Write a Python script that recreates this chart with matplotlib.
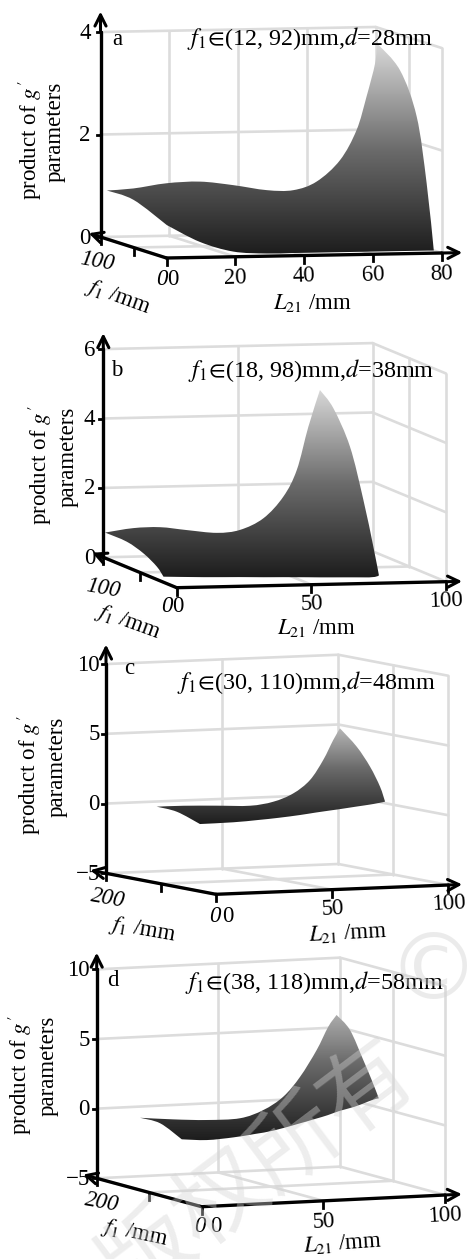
import numpy as np
import matplotlib
matplotlib.use('Agg')
import matplotlib.pyplot as plt
from matplotlib.colors import LinearSegmentedColormap
from matplotlib.patches import PathPatch
from matplotlib.path import Path

plt.rcParams['font.family'] = ['Liberation Serif', 'DejaVu Sans']
plt.rcParams['mathtext.fontset'] = 'stix'

# surface outlines: L21 (mm), f1 (mm), product of g parameters
a_top_L = [0.3, 8, 17.7, 27.4, 37, 46.8, 54.5, 61.3, 68.1, 72.9, 75.8, 78.3, 78.8, 79, 79, 79, 80]
a_top_f = [92, 92, 92, 92, 92, 92, 92, 92, 92, 92, 92, 92, 92, 58, 32.7, 17.6, 12]
a_top_z = [0.94, 0.97, 1.06, 1.08, 1.0, 0.89, 0.88, 1.04, 1.45, 2.03, 2.68, 3.33, 3.72, 3.33, 2.53, 1.29, 0]
a_bot_L = [0.3, 0, 2.4, 12, 21.7, 31.4, 39, 46, 53, 58, 61, 63, 64, 70, 74, 77, 80]
a_bot_f = [92, 50, 12, 12, 12, 12, 12, 12, 12, 12, 12, 12, 12, 12, 12, 12, 12]
a_bot_z = [0.94, 0.93, 0.59, 0.25, 0.05, 0, 0, 0, 0, 0, 0, 0, 0, 0, 0, 0, 0]

b_top_L = [0.1, 10.6, 20.5, 30.4, 41.6, 50.2, 58.9, 66.3, 71.3, 75.6, 79.9, 80, 80, 80, 80, 80]
b_top_f = [98, 98, 98, 98, 98, 98, 98, 98, 98, 98, 98, 80, 57.4, 39.2, 25.6, 18]
b_top_z = [0.73, 0.84, 0.85, 0.75, 0.65, 0.72, 1.04, 1.65, 2.41, 3.65, 4.70, 4.33, 3.42, 2.05, 0.82, 0.06]
b_bot_L = [0.1, 0, 0, 0, 0, 15, 28, 37, 44, 49, 54, 58, 64, 70, 75, 80]
b_bot_f = [98, 68, 45, 27, 18, 18, 18, 18, 18, 18, 18, 18, 18, 18, 18, 18]
b_bot_z = [0.73, 0.73, 0.59, 0.37, 0.16, 0.12, 0.10, 0.08, 0.07, 0.06, 0.05, 0.04, 0.03, 0.02, 0.01, 0]

c_top_L = [0.5, 12, 26.3, 40.7, 50.7, 59.3, 66.5, 72.2, 76.5, 79.4, 80, 80, 80, 80]
c_top_f = [110, 110, 110, 110, 110, 110, 110, 110, 110, 110, 82, 57.8, 39.6, 30.5]
c_top_z = [0.45, 0.44, 0.35, 0.25, 0.47, 1.01, 1.92, 3.32, 4.72, 5.54, 4.43, 3.18, 1.88, 0.88]
c_bot_L = [0.5, 0, 0.2, 14.6, 25, 34, 43.3, 50, 57.6, 60, 68, 73, 77, 79.9]
c_bot_f = [110, 71, 30, 30, 30, 30, 30, 30, 30, 30, 30, 30, 30, 30]
c_bot_z = [0.45, 0.38, -0.19, -0.16, -0.07, 0.03, 0.17, 0.30, 0.43, 0.47, 0.62, 0.71, 0.80, 0.88]

d_top_L = [0.1, 13.8, 27.5, 41.2, 50.8, 59, 65.9, 72.7, 77.5, 80.9, 81, 81, 81, 81]
d_top_f = [118, 118, 118, 118, 118, 118, 118, 118, 118, 118, 93, 67.6, 51.6, 38]
d_top_z = [0.18, -0.05, -0.21, -0.20, 0.31, 1.2, 2.57, 4.43, 6.07, 6.88, 6.06, 4.16, 2.89, 1.71]
d_bot_L = [0.1, 0, 0, 10.3, 21.2, 30, 38, 48.6, 55, 60, 65, 71, 76, 80]
d_bot_f = [118, 79, 38, 38, 38, 38, 38, 38, 38, 38, 38, 38, 38, 38]
d_bot_z = [0.18, 0.18, -0.55, -0.69, -0.59, -0.42, -0.23, 0.19, 0.46, 0.68, 0.95, 1.19, 1.48, 1.73]

a_L_ticks = [0, 20, 40, 60, 80]
b_L_ticks = [0, 50, 100]
c_L_ticks = [0, 50, 100]
d_L_ticks = [0, 50, 100]
a_z_ticks = [0, 2, 4]
b_z_ticks = [0, 2, 4, 6]
c_z_ticks = [-5, 0, 5, 10]
d_z_ticks = [-5, 0, 5, 10]
a_f_max, b_f_max, c_f_max, d_f_max = 100, 100, 200, 200

letters = ['a', 'b', 'c', 'd']
titles = [r'$f_1\!\in\!$(12, 92)mm,$d$=28mm', r'$f_1\!\in\!$(18, 98)mm,$d$=38mm',
          r'$f_1\!\in\!$(30, 110)mm,$d$=48mm', r'$f_1\!\in\!$(38, 118)mm,$d$=58mm']

# panel geometry in image pixels: floor corner, pixel step per unit of L, f, z
panels = [
    dict(top=(a_top_L, a_top_f, a_top_z), bot=(a_bot_L, a_bot_f, a_bot_z), Lt=a_L_ticks, zt=a_z_ticks, fm=a_f_max,
         O=(166.5, 258), vL=(3.44, -0.0625), vf=(-0.66, -0.21), vz=51.25, light=1.0,
         ends=(86, 118, 4.4), zgap=10, Ly=21, lrot=2, f0=(-5, 6, 21), ft=(-3, 25),
         fl=(118, 297, -20), Ll=(313, 303, 0), let=(117, 39), tit=(187, 38),
         yl=((30, 140), (55, 132))),
    dict(top=(b_top_L, b_top_f, b_top_z), bot=(b_bot_L, b_bot_f, b_bot_z), Lt=b_L_ticks, zt=b_z_ticks, fm=b_f_max,
         O=(176.7, 587.7), vL=(2.693, -0.06), vf=(-0.734, -0.304), vz=34.7, light=1.0,
         ends=(106, 115, 6.46), zgap=8, Ly=19, lrot=2, f0=(-10, 1, 19), ft=(0, 31),
         fl=(128, 622, -20), Ll=(317, 628, 0), let=(117, 370), tit=(188, 370),
         yl=((40, 465), (68, 457))),
    dict(top=(c_top_L, c_top_f, c_top_z), bot=(c_bot_L, c_bot_f, c_bot_z), Lt=c_L_ticks, zt=c_z_ticks, fm=c_f_max,
         O=(216, 894.3), vL=(2.323, -0.093), vf=(-0.55, -0.105), vz=13.95, light=0.85,
         ends=(106, 229, 11.4), zgap=6, Ly=19, lrot=3, f0=(-1, 12, 22), ft=(2, 25),
         fl=(143, 930, -10), Ll=(348, 933, 3), let=(129, 668), tit=(177, 682),
         yl=((29, 775), (57, 767))),
    dict(top=(d_top_L, d_top_f, d_top_z), bot=(d_bot_L, d_bot_f, d_bot_z), Lt=d_L_ticks, zt=d_z_ticks, fm=d_f_max,
         O=(201.7, 1206.7), vL=(2.433, -0.117), vf=(-0.525, -0.142), vz=13.93, light=0.8,
         ends=(107, 226, 11.2), zgap=7, Ly=21, lrot=3, f0=(-2, 14, 20), ft=(5, 24),
         fl=(135, 1233, -12), Ll=(343, 1243, 4), let=(113, 980), tit=(185, 982),
         yl=((20, 1075), (48, 1066))),
]

greys = LinearSegmentedColormap.from_list('surf', ['#1c1c1c', '#6c6c6c', '#dadada'])
GRID = '#dcdcdc'
FS = 16.5

fig = plt.figure(figsize=(4.68, 12.59), dpi=100)
ax = fig.add_axes([0, 0, 1, 1])
ax.axis('off')


def project(p, L, f, z):
    L, f, z = np.asarray(L, float), np.asarray(f, float), np.asarray(z, float)
    x = p['O'][0] + p['vL'][0] * L + p['vf'][0] * f
    y = p['O'][1] + p['vL'][1] * L + p['vf'][1] * f - p['vz'] * (z - p['zt'][0])
    return x, y


def seg(p, start, end, **kw):
    x0, y0 = project(p, *start)
    x1, y1 = project(p, *end)
    ax.plot([x0, x1], [y0, y1], solid_capstyle='round', **kw)


def arrow(p, start, end):
    ax.annotate('', xy=project(p, *end), xytext=project(p, *start), zorder=4,
                arrowprops=dict(arrowstyle='->', lw=2.2, color='k', mutation_scale=20,
                                shrinkA=0, shrinkB=0))


def bezier_arc(pts):
    # bezier segments through the read points, so the outline has no kinks
    out = []
    n = len(pts)
    for i in range(n - 1):
        prev = pts[max(i - 1, 0)]
        nxt = pts[min(i + 2, n - 1)]
        out.append(pts[i] + (pts[i + 1] - prev) / 6)
        out.append(pts[i + 1] - (nxt - pts[i]) / 6)
        out.append(pts[i + 1])
    return out


def outline(p):
    top = np.column_stack(project(p, *p['top']))
    bot = np.column_stack(project(p, *p['bot']))
    peak = max(i for i, f in enumerate(p['top'][1]) if f == p['top'][1][0])
    turn = p['bot'][1].index(min(p['bot'][1]))
    verts = [top[0]]
    verts += bezier_arc(top[:peak + 1])
    verts += bezier_arc(top[peak:])
    verts += bezier_arc(bot[turn:][::-1])
    verts += bezier_arc(bot[:turn + 1][::-1])
    codes = [Path.MOVETO] + [Path.CURVE4] * (len(verts) - 1)
    return Path(np.array(verts), codes), top, bot


for p, letter, title in zip(panels, letters, titles):
    Lm, fm = p['Lt'][-1], p['fm']
    z0, zm = p['zt'][0], p['zt'][-1]
    grid = dict(color=GRID, lw=1.9, zorder=1)

    # walls and floor
    for z in p['zt']:
        seg(p, (0, fm, z), (Lm, fm, z), **grid)
        seg(p, (Lm, fm, z), (Lm, 0, z), **grid)
    for L in p['Lt'][1:]:
        seg(p, (L, fm, z0), (L, fm, zm), **grid)
    for L in p['Lt'][:-1]:
        seg(p, (L, 0, z0), (L, fm, z0), **grid)
    seg(p, (0, fm / 2, z0), (Lm, fm / 2, z0), **grid)
    seg(p, (Lm, fm / 2, z0), (Lm, fm / 2, zm), **grid)
    seg(p, (Lm, 0, z0), (Lm, 0, zm), **grid)

    # surface: grey follows the height, clipped to the outline
    path, top, bot = outline(p)
    pts = np.vstack([top, bot])
    zlo, zhi = min(p['bot'][2]), max(p['top'][2])
    shade = np.linspace(zhi, zlo, 256)[:, None]
    im = ax.imshow(shade, cmap=greys, vmin=zlo, vmax=zlo + (zhi - zlo) / p['light'], aspect='auto',
                   origin='upper', zorder=2,
                   extent=(pts[:, 0].min() - 3, pts[:, 0].max() + 3, pts[:, 1].max() + 1, pts[:, 1].min() - 1))
    clip = PathPatch(path, facecolor='none', edgecolor='none', transform=ax.transData)
    ax.add_patch(clip)
    im.set_clip_path(clip)

    # axes
    k = dict(color='k', lw=2.4, zorder=4)
    seg(p, (0, 0, z0), (Lm, 0, z0), **k)
    seg(p, (0, 0, z0), (0, fm, z0), **k)
    seg(p, (0, fm, z0), (0, fm, zm), **k)
    arrow(p, (Lm, 0, z0), (p['ends'][0], 0, z0))
    arrow(p, (0, fm, z0), (0, p['ends'][1], z0))
    arrow(p, (0, fm, zm), (0, fm, p['ends'][2]))

    # ticks and tick labels
    for L in p['Lt']:
        x, y = project(p, L, 0, z0)
        ax.plot([x, x], [y, y + 7], color='k', lw=2, zorder=4)
        if L > 0:
            ax.text(x, y + p['Ly'], str(L), fontsize=FS, ha='center', va='center',
                    rotation=p['lrot'], zorder=5)
    x, y = project(p, 0, 0, z0)
    ax.text(x + p['f0'][0], y + p['f0'][2], '0', style='italic', fontsize=FS, ha='center', va='center', zorder=5)
    ax.text(x + p['f0'][1], y + p['f0'][2], '0', fontsize=FS, ha='center', va='center', zorder=5)
    for f in [fm / 2, fm]:
        x, y = project(p, 0, f, z0)
        ax.plot([x, x], [y, y + 7], color='k', lw=2, zorder=4)
    ax.text(x + p['ft'][0], y + p['ft'][1], str(fm), style='italic', fontsize=FS, ha='center', va='center',
            rotation=-10, zorder=5)
    for z in p['zt']:
        x, y = project(p, 0, fm, z)
        ax.plot([x - 4, x], [y, y], color='k', lw=2, zorder=4)
        ax.text(x - p['zgap'], y + 1, str(z).replace('-', '\u2212'), fontsize=FS, ha='right', va='center', zorder=5)

    # labels
    ax.text(p['fl'][0], p['fl'][1], r'$f_{\mathit{1}}$ /mm', fontsize=FS, ha='center', va='center',
            rotation=p['fl'][2], rotation_mode='anchor', zorder=5)
    ax.text(p['Ll'][0], p['Ll'][1], r'$L_{21}$ /mm', fontsize=FS, ha='center', va='center',
            rotation=p['Ll'][2], rotation_mode='anchor', zorder=5)
    ax.text(p['let'][0], p['let'][1], letter, fontsize=FS, ha='center', va='center', zorder=5)
    ax.text(p['tit'][0], p['tit'][1], title, fontsize=17.4, ha='left', va='center', zorder=5)
    ax.text(p['yl'][0][0], p['yl'][0][1], r"product of $g\,'$", fontsize=FS, rotation=90,
            ha='center', va='center', zorder=5)
    ax.text(p['yl'][1][0], p['yl'][1][1], 'parameters', fontsize=FS, rotation=90,
            ha='center', va='center', zorder=5)

# watermark
ax.text(258, 1172, '版权所有', family=['Noto Sans CJK SC', 'DejaVu Sans'], fontsize=66, color='#d4d4d4', alpha=0.4,
        rotation=37, ha='center', va='center', zorder=6, clip_on=True)
ax.text(433, 973, '©', family=['DejaVu Sans'], fontsize=66, color='#d4d4d4', alpha=0.45,
        ha='center', va='center', zorder=6)

ax.set_xlim(0, 468)
ax.set_ylim(1259, 0)
fig.savefig('out.png', dpi=100)
